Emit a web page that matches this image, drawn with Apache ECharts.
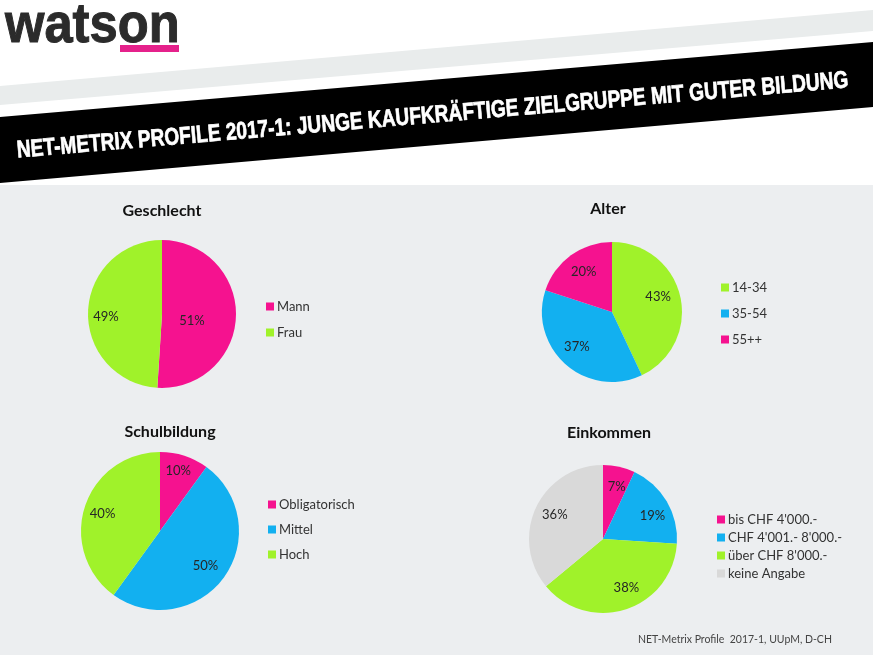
<!DOCTYPE html>
<html>
<head>
<meta charset="utf-8">
<title>NET-Metrix Profile 2017-1</title>
<style>
  html, body { margin: 0; padding: 0; background: #fff; }
  #chart-container { width: 873px; height: 655px; }
</style>
<script src="https://cdn.jsdelivr.net/npm/echarts@6/dist/echarts.min.js"></script>
</head>
<body>
<div id="chart-container"></div>
<script>
// values
const geschlechtNames = ['Mann', 'Frau'];
const geschlechtValues = [51, 49];
const alterNames = ['14-34', '35-54', '55++'];
const alterValues = [43, 37, 20];
const schulNames = ['Obligatorisch', 'Mittel', 'Hoch'];
const schulValues = [10, 50, 40];
const einkommenNames = ['bis CHF 4\'000.-', 'CHF 4\'001.- 8\'000.-', 'über CHF 8\'000.-', 'keine Angabe'];
const einkommenValues = [7, 19, 38, 36];

const PINK = '#f5128f', GREEN = '#a0f22a', BLUE = '#12b0f0', GREY = '#d9d9d9';
const FONT = 'Lato, "Open Sans", sans-serif';

// builds one pie, label offsets move the percentages away from mid radius
const makePie = (names, values, colors, center, radius, offsets) => ({
	type: 'pie',
	center: center,
	radius: radius,
	startAngle: 90,
	clockwise: true,
	silent: true,
	animation: false,
	z: 5,
	label: {
		position: 'inside',
		formatter: '{c}%',
		color: '#262626',
		fontFamily: FONT,
		fontSize: 13
	},
	labelLine: { show: false },
	data: names.map((name, i) => ({
		name: name,
		value: values[i],
		itemStyle: { color: colors[i] },
		label: { offset: offsets[i] }
	}))
});

const makeLegend = (names, left, top, gap) => ({
	data: names,
	orient: 'vertical',
	left: left,
	top: top,
	icon: 'rect',
	itemWidth: 8,
	itemHeight: 8,
	itemGap: gap,
	selectedMode: false,
	textStyle: { color: '#333', fontFamily: FONT, fontSize: 13, padding: [0, 0, 0, -2] }
});

const makeTitle = (text, x, y) => ({
	text: text,
	left: x,
	top: y,
	textAlign: 'center',
	textVerticalAlign: 'middle',
	padding: 0,
	textStyle: { color: '#111', fontFamily: FONT, fontSize: 16, fontWeight: 'bold' }
});

const myChart = echarts.init(document.getElementById('chart-container'));
const option = {
	animation: false,
	backgroundColor: '#fff',
	title: [
		makeTitle('Geschlecht', 162, 211),
		makeTitle('Alter', 608, 209),
		makeTitle('Schulbildung', 170, 432),
		makeTitle('Einkommen', 609, 433)
	],
	legend: [
		makeLegend(geschlechtNames, 261, 295, 13),
		makeLegend(alterNames, 716, 276, 13),
		makeLegend(schulNames, 263, 493, 12),
		makeLegend(einkommenNames, 712, 508, 5)
	],
	graphic: [
		{ type: 'rect', z: 0, shape: { x: 0, y: 185, width: 873, height: 470 }, style: { fill: '#eceef0' } },
		// grey stripe and black band of the header
		{ type: 'polygon', z: 1, shape: { points: [[0, 86], [873, 10], [873, 31], [0, 105]] }, style: { fill: '#e9ecec' } },
		{ type: 'polygon', z: 1, shape: { points: [[0, 117], [873, 42], [873, 107], [0, 183]] }, style: { fill: '#000' } },
		{
			type: 'text', z: 2, x: 18, y: 163, rotation: 0.0843, scaleX: 0.912, scaleY: 1.15,
			style: {
				text: 'NET-METRIX PROFILE 2017-1: JUNGE KAUFKRÄFTIGE ZIELGRUPPE MIT GUTER BILDUNG',
				fill: '#fff',
				stroke: '#fff',
				lineWidth: 0.6,
				font: 'bold 21px "Liberation Sans Narrow", sans-serif',
				textVerticalAlign: 'bottom'
			}
		},
		{
			type: 'text', z: 2, x: 5, y: 55, scaleX: 0.905,
			style: {
				text: 'watson',
				fill: '#2b2b2b',
				stroke: '#2b2b2b',
				lineWidth: 1,
				font: 'bold 56px "Liberation Sans Narrow", sans-serif',
				textVerticalAlign: 'bottom'
			}
		},
		{ type: 'rect', z: 2, shape: { x: 120, y: 45, width: 59, height: 7 }, style: { fill: '#e5218b' } },
		{
			type: 'text', z: 2, x: 638, y: 634,
			style: { text: 'NET-Metrix Profile  2017-1, UUpM, D-CH', fill: '#444', font: '10.5px ' + FONT }
		}
	],
	series: [
		makePie(geschlechtNames, geschlechtValues, [PINK, GREEN], [162, 314], 74, [[-10, 6], [-16, 4]]),
		makePie(alterNames, alterValues, [GREEN, BLUE, PINK], [612, 312], 70, [[9, -7], [-10, 6], [-6, -9]]),
		makePie(schulNames, schulValues, [PINK, BLUE, GREEN], [160, 531], 79, [[5, -20], [11, 10], [-17, -4]]),
		makePie(einkommenNames, einkommenValues, [PINK, BLUE, GREEN, GREY], [603, 539], 74, [[5, -13], [15, -3], [11, 11], [-12, -7]])
	]
};
myChart.setOption(option);
</script>
</body>
</html>
